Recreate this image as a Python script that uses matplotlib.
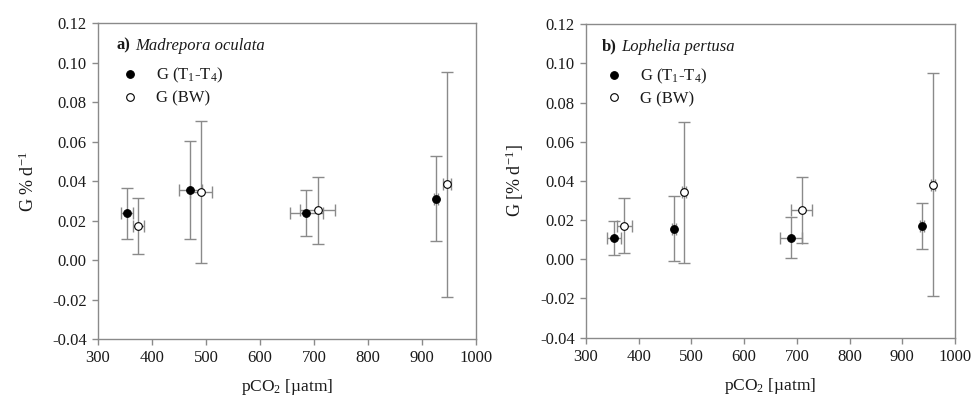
import matplotlib
matplotlib.use("Agg")
import matplotlib.pyplot as plt
from matplotlib.ticker import FormatStrFormatter, MultipleLocator
from matplotlib.lines import Line2D

plt.rcParams['font.family'] = ['Liberation Serif', 'DejaVu Serif']
plt.rcParams['mathtext.fontset'] = 'custom'
plt.rcParams['mathtext.rm'] = 'Liberation Serif'
plt.rcParams['mathtext.it'] = 'Liberation Serif:italic'

# ---- data: panel a) Madrepora oculata ----
a_t_x = [354, 471, 686, 926]
a_t_xerr = [11, 21, 31, 4]
a_t_y = [0.0237, 0.0355, 0.0237, 0.0310]
a_t_ylo = [0.0108, 0.0108, 0.0122, 0.0099]
a_t_yhi = [0.0365, 0.0603, 0.0354, 0.0525]

a_b_x = [375, 491, 707, 946]
a_b_xerr = [10, 20, 32, 8]
a_b_y = [0.0172, 0.0343, 0.0253, 0.0383]
a_b_ylo = [0.0033, -0.0016, 0.0083, -0.0187]
a_b_yhi = [0.0312, 0.0703, 0.0422, 0.0953]

# ---- data: panel b) Lophelia pertusa ----
b_t_x = [353, 467, 689, 938]
b_t_xerr = [14, 3, 20, 4]
b_t_y = [0.0110, 0.0155, 0.0110, 0.0170]
b_t_ylo = [0.0024, -0.0010, 0.0008, 0.0052]
b_t_yhi = [0.0197, 0.0321, 0.0214, 0.0288]

b_b_x = [373, 486, 709, 958]
b_b_xerr = [15, 4, 20, 4]
b_b_y = [0.0172, 0.0342, 0.0250, 0.0381]
b_b_ylo = [0.0032, -0.0018, 0.0083, -0.0187]
b_b_yhi = [0.0312, 0.0701, 0.0422, 0.0953]

titles = ['a)', 'b)']
species = ['Madrepora oculata', 'Lophelia pertusa']
ylabels = ['G % d$^{-1}$', 'G [% d$^{-1}$]']
xlabel = 'pCO$_2$ [µatm]'
legend_labels = ['G (T$_1$-T$_4$)', 'G (BW)']

GRAY = '#8a8a8a'
TXT = '#1a1a1a'

fig = plt.figure(figsize=(9.74, 4.01), dpi=100)
ax_a = fig.add_axes([0.1006, 0.1546, 0.3881, 0.7874])
ax_b = fig.add_axes([0.6016, 0.1580, 0.3789, 0.7814])

panels = [
    (ax_a, (a_t_x, a_t_xerr, a_t_y, a_t_ylo, a_t_yhi), (a_b_x, a_b_xerr, a_b_y, a_b_ylo, a_b_yhi)),
    (ax_b, (b_t_x, b_t_xerr, b_t_y, b_t_ylo, b_t_yhi), (b_b_x, b_b_xerr, b_b_y, b_b_ylo, b_b_yhi)),
]
title_x = [0.05, 0.043]
leg_x = [0.045, 0.036]

for i, (ax, tser, bser) in enumerate(panels):
    for ser, fc in ((tser, 'black'), (bser, 'white')):
        x, xerr, y, ylo, yhi = ser
        yerr = [[yy - lo for yy, lo in zip(y, ylo)], [hi - yy for yy, hi in zip(y, yhi)]]
        ax.errorbar(x, y, xerr=xerr, yerr=yerr, fmt='none', ecolor=GRAY,
                    elinewidth=1.0, capsize=4, capthick=1.0, zorder=2)
        ax.plot(x, y, 'o', ms=5.5, mfc=fc, mec='black', mew=0.8, ls='none', zorder=3)

    ax.set_xlim(300, 1000)
    ax.set_ylim(-0.04, 0.12)
    ax.xaxis.set_major_locator(MultipleLocator(100))
    ax.yaxis.set_major_locator(MultipleLocator(0.02))
    ax.yaxis.set_major_formatter(FormatStrFormatter('%.2f'))
    for s in ax.spines.values():
        s.set_color(GRAY)
        s.set_linewidth(1.0)
    ax.tick_params(direction='out', length=4, width=1.0, color=GRAY,
                   labelsize=12, labelcolor=TXT, pad=4)
    ax.set_xlabel(xlabel, fontsize=12.5, labelpad=8, color=TXT)
    ax.set_ylabel(ylabels[i], fontsize=13, labelpad=10, color=TXT)

    t = ax.text(title_x[i], 0.929, titles[i], transform=ax.transAxes, fontsize=12,
                fontweight='bold', ha='left', va='center', color=TXT)
    ax.annotate(species[i], xy=(1, 0.5), xycoords=t, xytext=(3.5, 0),
                textcoords='offset points', fontsize=12, style='italic',
                ha='left', va='center', color=TXT)

    handles = [
        Line2D([], [], marker='o', ls='none', ms=5.5, mfc='black', mec='black', mew=0.8),
        Line2D([], [], marker='o', ls='none', ms=5.5, mfc='white', mec='black', mew=0.8),
    ]
    ax.legend(handles, legend_labels, loc='upper left', bbox_to_anchor=(leg_x[i], 0.885),
              frameon=False, fontsize=12, handletextpad=1.05, labelspacing=0.3,
              borderaxespad=0, handlelength=1.0, labelcolor=TXT)

fig.savefig('out.png', dpi=100)
